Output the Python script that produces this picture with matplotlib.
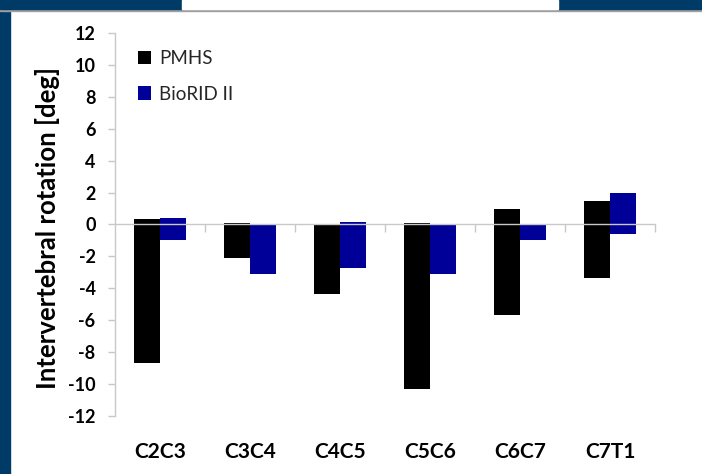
import numpy as np
import matplotlib.pyplot as plt
from matplotlib.patches import Rectangle

# floating bars: each bar spans from low to high value
segments = ["C2C3", "C3C4", "C4C5", "C5C6", "C6C7", "C7T1"]
pmhs_low = [-8.7, -2.1, -4.35, -10.3, -5.65, -3.35]
pmhs_high = [0.35, 0.1, 0.0, 0.1, 0.95, 1.5]
biorid_low = [-1.0, -3.1, -2.7, -3.1, -1.0, -0.6]
biorid_high = [0.4, 0.0, 0.15, 0.0, 0.0, 2.0]
yticks = list(range(-12, 13, 2))

plt.rcParams['font.family'] = ['Lato', 'DejaVu Sans']

fig = plt.figure(figsize=(7.02, 4.74), dpi=100)
ax = fig.add_axes([115 / 702, 58 / 474, 540 / 702, 383 / 474])

x = np.arange(len(segments))
w = 0.29
lo_p, hi_p = np.array(pmhs_low), np.array(pmhs_high)
lo_b, hi_b = np.array(biorid_low), np.array(biorid_high)
ax.bar(x - w / 2, hi_p - lo_p, w, bottom=lo_p, color='black', label='PMHS')
ax.bar(x + w / 2, hi_b - lo_b, w, bottom=lo_b, color='#000099', label='BioRID II')

ax.set_xlim(-0.5, len(segments) - 0.5)
ax.set_ylim(-12, 12)
ax.set_yticks(yticks)
ax.set_yticklabels([str(t) for t in yticks], fontsize=13, fontweight='bold')

# category axis sits on zero, ticks at category boundaries
ax.spines['bottom'].set_position(('data', 0))
for s in ['top', 'right']:
    ax.spines[s].set_visible(False)
for s in ['left', 'bottom']:
    ax.spines[s].set_color('#c8c8c8')
    ax.spines[s].set_linewidth(1.0)
ax.set_xticks(x + 0.5)
ax.set_xticklabels([])
ax.tick_params(axis='x', direction='out', length=6, color='#c8c8c8', width=1.0)
ax.tick_params(axis='y', direction='out', length=5, color='#c8c8c8', width=1.0, pad=9)

for xi, name in zip(x, segments):
    ax.text(xi, -0.095, name, transform=ax.get_xaxis_transform(), ha='center', va='center',
            fontsize=15, fontweight='bold')

ax.set_ylabel('Intervertebral rotation [deg]', fontsize=18.5, fontweight='bold')
ax.yaxis.set_label_coords(-0.102, 0.49)

ax.legend(loc='upper left', bbox_to_anchor=(0.012, 1.0), frameon=False, fontsize=13.5,
          handlelength=0.7, handleheight=0.7, handletextpad=0.4, labelspacing=1.0,
          labelcolor='#262626')

# slide frame
navy = '#003a66'
fig.add_artist(Rectangle((0, 0), 10 / 702, 1, transform=fig.transFigure, color=navy, zorder=5))
fig.add_artist(Rectangle((0, 463 / 474), 1, 2 / 474, transform=fig.transFigure, color='#a0a0a0', zorder=5))
fig.add_artist(Rectangle((0, 465 / 474), 182 / 702, 9 / 474, transform=fig.transFigure, color=navy, zorder=6))
fig.add_artist(Rectangle((558 / 702, 465 / 474), 144 / 702, 9 / 474, transform=fig.transFigure, color=navy, zorder=6))
fig.add_artist(Rectangle((182 / 702, 465 / 474), 376 / 702, 9 / 474, transform=fig.transFigure, color='white', zorder=6))

fig.savefig('out.png', dpi=100)
